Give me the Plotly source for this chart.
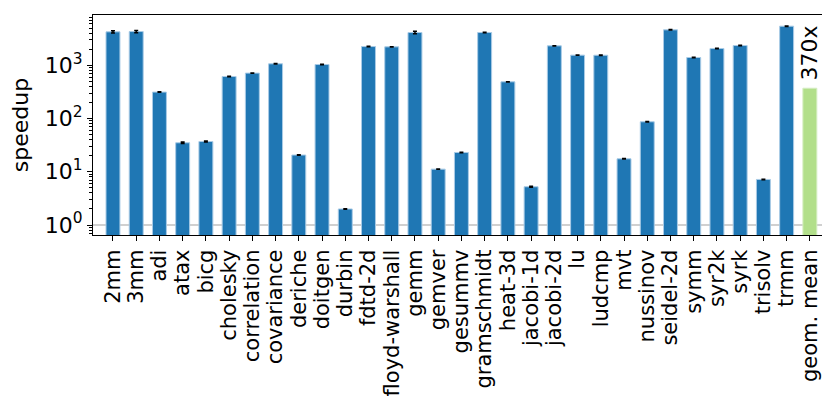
import plotly.graph_objects as go
import math

benchmarks = ["2mm", "3mm", "adi", "atax", "bicg", "cholesky", "correlation", "covariance",
              "deriche", "doitgen", "durbin", "fdtd-2d", "floyd-warshall", "gemm", "gemver",
              "gesummv", "gramschmidt", "heat-3d", "jacobi-1d", "jacobi-2d", "lu", "ludcmp",
              "mvt", "nussinov", "seidel-2d", "symm", "syr2k", "syrk", "trisolv", "trmm"]
speedups = [4235, 4290, 313, 35, 37, 614, 711, 1063, 20.6, 1031, 2.0, 2243, 2213, 4110, 11.2,
            23, 4110, 488, 5.23, 2312, 1546, 1540, 17.5, 86.7, 4617, 1396, 2057, 2343, 7.17, 5410]
errors = [200, 200, 3, 1.2, 0.8, 5, 6, 10, 0.2, 10, 0.02, 20, 20, 220, 0.1,
          0.2, 40, 4, 0.12, 20, 12, 12, 0.2, 0.8, 45, 12, 20, 20, 0.07, 50]
geo_label = "geom. mean"
geo_value = 370
geo_text = "370x"

ytick_vals = [1, 10, 100, 1000]
ytick_text = ["10<sup>0</sup>", "10<sup>1</sup>", "10<sup>2</sup>", "10<sup>3</sup>"]
minor_vals = [m * 10 ** k for k in range(-1, 4) for m in range(2, 10)]

FONT = "DejaVu Sans"
FS = 21
n = len(benchmarks)
xs = list(range(n))

fig = go.Figure()
fig.add_trace(go.Bar(
    x=xs, y=speedups, width=0.6,
    marker=dict(color="#1f77b4", line=dict(color="#a9cbe6", width=1)),
    error_y=dict(type="data", array=errors, visible=True, color="black",
                 thickness=1.5, width=2),
    showlegend=False,
))
fig.add_trace(go.Bar(
    x=[n], y=[geo_value], width=0.6,
    marker=dict(color="#b2df8a", line=dict(color="#d5eec2", width=1)),
    showlegend=False,
))

fig.add_shape(type="line", xref="paper", x0=0, x1=1, yref="y", y0=1, y1=1,
              line=dict(color="#d0d0d0", width=2), layer="below")

fig.add_annotation(x=n, y=math.log10(geo_value), text=geo_text, showarrow=False,
                   textangle=-90, xanchor="center", yanchor="bottom", yshift=6,
                   font=dict(family=FONT, size=22, color="black"))

fig.update_layout(
    width=830, height=397,
    margin=dict(l=85, r=7, t=7, b=170),
    paper_bgcolor="white", plot_bgcolor="white",
    bargap=0.4,
    font=dict(family=FONT, size=FS, color="black"),
)
fig.update_xaxes(
    range=[-0.86, 30.91], automargin=False,
    tickmode="array", tickvals=xs + [n], ticktext=benchmarks + [geo_label],
    tickangle=-90, ticks="outside", ticklen=5, tickwidth=1.2, tickcolor="black",
    showline=True, linecolor="black", linewidth=1.3, mirror=True,
    showgrid=False, zeroline=False,
    tickfont=dict(family=FONT, size=FS, color="black"),
)
fig.update_yaxes(
    type="log", range=[-0.1875, 3.943], automargin=False,
    tickmode="array", tickvals=ytick_vals, ticktext=ytick_text,
    ticks="outside", ticklen=5, tickwidth=1.2, tickcolor="black",
    minor=dict(tickmode="array", tickvals=minor_vals, ticks="outside",
               ticklen=2.5, tickwidth=1, tickcolor="black", showgrid=False),
    showline=True, linecolor="black", linewidth=1.3, mirror=True,
    showgrid=False, zeroline=False,
    title=dict(text="speedup", font=dict(family=FONT, size=22, color="black"), standoff=16),
    tickfont=dict(family=FONT, size=22, color="black"),
)

fig.write_html("out.html")
